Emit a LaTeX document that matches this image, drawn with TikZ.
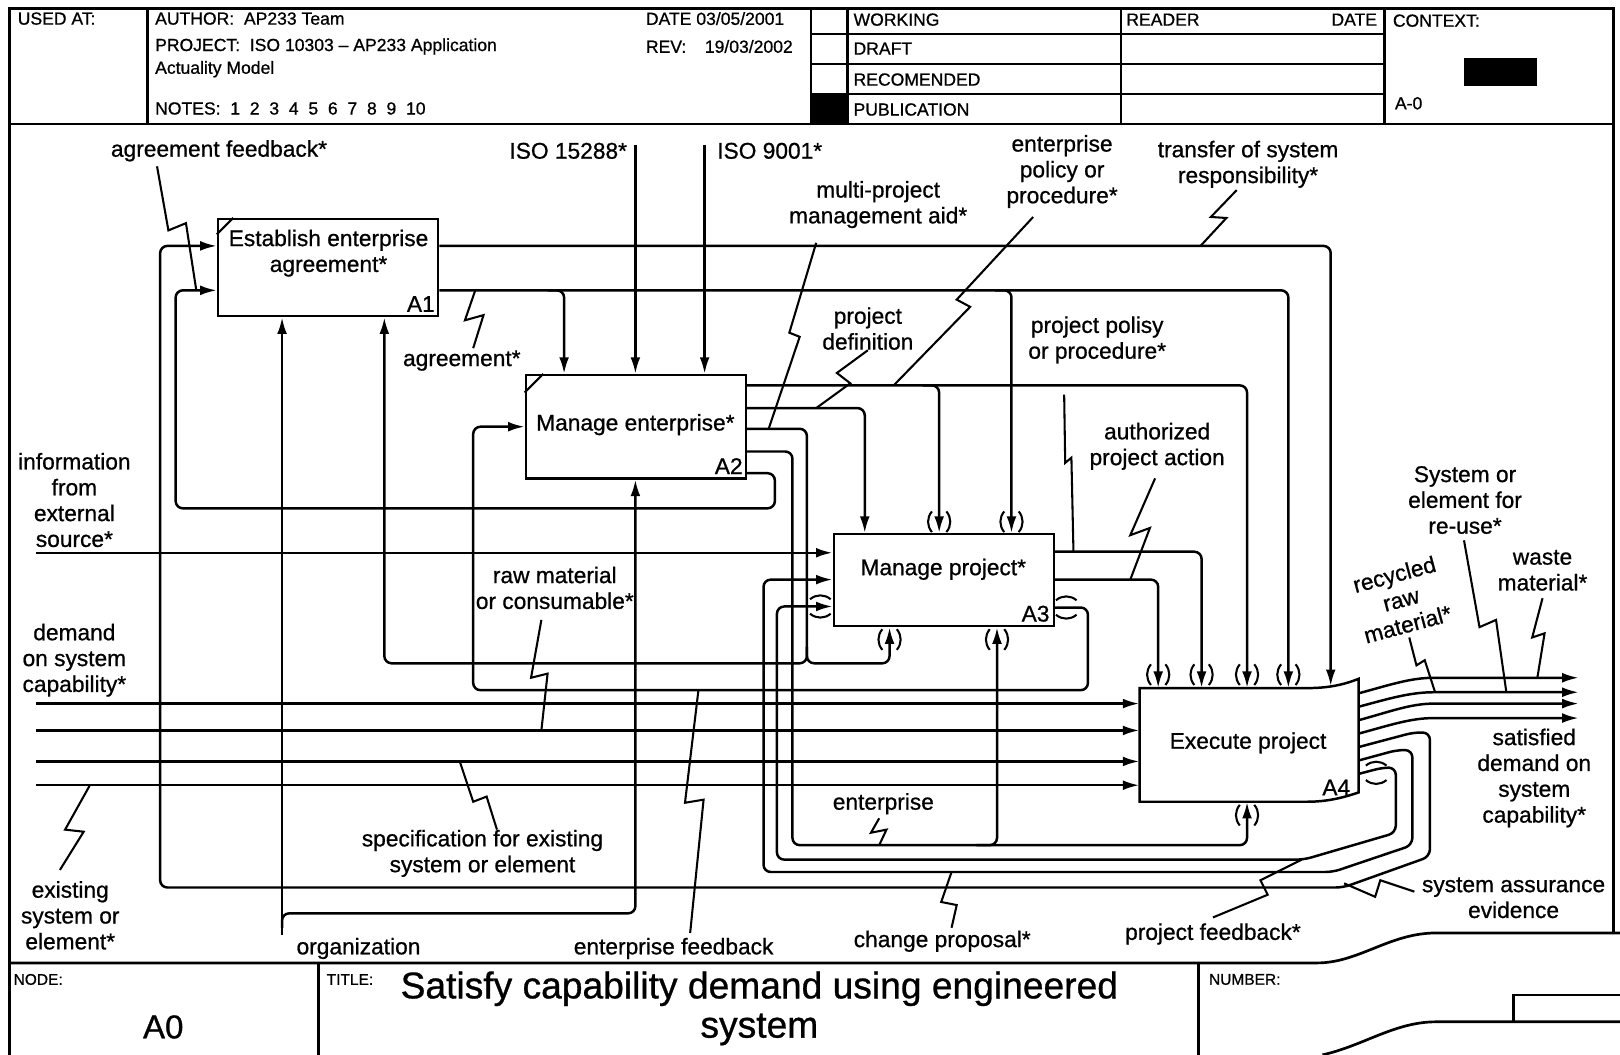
\documentclass[tikz,border=0pt]{standalone}
\usepackage{fontspec}
\setmainfont[FakeBold=0.8]{Liberation Sans}
\usetikzlibrary{arrows.meta,calc}

\tikzset{
  flow/.style={line width=2.4pt, rounded corners=7pt, -{Latex[length=16pt,width=9.5pt]}},
  squig/.style={line width=2pt},
  sheet/.style={line width=2.6pt},
  proc/.style={draw, line width=2.4pt, inner sep=0pt, minimum width=213pt},
  lbl/.style={font=\fontsize{22}{25}\selectfont, align=center, inner sep=0pt},
  hdr/.style={font=\fontsize{17}{20}\selectfont, anchor=west, inner sep=0pt},
  small/.style={font=\fontsize{15}{18}\selectfont, anchor=west, inner sep=0pt},
  tunv/.pic={\draw[line width=2pt] (-7,-10) .. controls (-12,-4) and (-12,4) .. (-7,10);
             \draw[line width=2pt] (7,-10) .. controls (12,-4) and (12,4) .. (7,10);},
  tunh/.pic={\draw[line width=2pt] (-10,-7) .. controls (-4,-12) and (4,-12) .. (10,-7);
             \draw[line width=2pt] (-10,7) .. controls (-4,12) and (4,12) .. (10,7);}
}

\begin{document}
\begin{tikzpicture}[x=1pt, y=-1pt]
    \useasboundingbox (0,0) rectangle (1568,1021);

    % Sheet frame and header
    \draw[sheet] (9,1021) -- (9,8) -- (1562,8) -- (1562,903);
    \draw[sheet] (9,120) -- (1562,120);
    \foreach \x in {143,785,820,1085,1340} \draw[sheet] (\x,8) -- (\x,120);
    \foreach \y in {33,62,91} \draw[sheet] (785,\y) -- (1340,\y);
    \fill (785,91) rectangle (820,120);
    \fill (1417,56) rectangle (1488,83);

    % Footer
    \draw[sheet] (9,932) -- (1275,932) .. controls (1315,932) and (1345,903) .. (1390,903) -- (1568,903);
    \draw[sheet] (308,932) -- (308,1021);
    \draw[sheet] (1160,932) -- (1160,1021);
    \draw[sheet] (1280,1021) .. controls (1320,1012) and (1350,989) .. (1390,989) -- (1568,989);
    \draw[sheet] (1465,989) -- (1465,963) -- (1568,963);

    % Header texts
    \node[hdr] (usedat) at (17,18) {USED AT:};
    \node[hdr] (author) at (150,18) {AUTHOR:\ \ AP233 Team};
    \node[hdr] (date) at (625,18) {DATE 03/05/2001};
    \node[hdr] (project) at (150,45) {PROJECT:\ \ ISO 10303 \textendash\ AP233 Application};
    \node[hdr] (rev) at (625,45) {REV:\hspace{18pt}19/03/2002};
    \node[hdr] (actuality) at (150,67) {Actuality Model};
    \node[hdr] (notes) at (150,105) {NOTES:\ \ 1\ \ 2\ \ 3\ \ 4\ \ 5\ \ 6\ \ 7\ \ 8\ \ 9\ \ 10};
    \node[hdr] (working) at (826,19) {WORKING};
    \node[hdr] (draft) at (826,47) {DRAFT};
    \node[hdr] (recomended) at (826,77) {RECOMENDED};
    \node[hdr] (publication) at (826,106) {PUBLICATION};
    \node[hdr] (reader) at (1090,19) {READER};
    \node[hdr, anchor=east] (rdate) at (1333,19) {DATE};
    \node[hdr] (context) at (1348,20) {CONTEXT:};
    \node[hdr] (aminus) at (1350,100) {A-0};

    % Footer texts
    \node[small] (nodelbl) at (13,948) {NODE:};
    \node[font=\fontsize{32}{36}\selectfont, inner sep=0pt] (nodeid) at (158,994) {A0};
    \node[small] (titlelbl) at (316,948) {TITLE:};
    \node[font=\fontsize{36}{38}\selectfont, align=center, inner sep=0pt] (title) at (735,976) {Satisfy capability demand using engineered\\system};
    \node[small] (numberlbl) at (1170,948) {NUMBER:};

    % Activity boxes
    \node[proc, minimum height=94pt] (A1) at (317.5,259) {};
    \node[lbl] (A1name) at (318,245) {Establish enterprise\\agreement*};
    \node[lbl, anchor=south east] (A1id) at (421,302) {A1};
    \draw[line width=2pt] (A1.north west) ++(0,16) -- ++(16,-16);

    \node[proc, minimum height=100pt] (A2) at (615.5,413) {};
    \node[lbl] (A2name) at (615,411) {Manage enterprise*};
    \node[lbl, anchor=south east] (A2id) at (719,459) {A2};
    \draw[line width=2pt] (A2.north west) ++(0,18) -- ++(18,-18);

    \node[proc, minimum height=89pt] (A3) at (913.5,561.5) {};
    \node[lbl] (A3name) at (913,551) {Manage project*};
    \node[lbl, anchor=south east] (A3id) at (1016,602) {A3};

    \node[minimum width=212pt, minimum height=110pt, inner sep=0pt] (A4) at (1209,721) {};
    \draw[line width=2.4pt] (1103,666) -- (1265,666) .. controls (1285,666) and (1300,663) .. (1315,657)
        -- (1315,767) .. controls (1300,772) and (1285,776) .. (1265,776) -- (1103,776) -- cycle;
    \node[lbl] (A4name) at (1208,719) {Execute project};
    \node[lbl, anchor=south east] (A4id) at (1307,770) {A4};

    % A1 outputs
    \draw[flow] (A1.east |- 0,238) -| (1288,664);
    \draw[flow] (A1.east |- 0,281) -| (A4.north -| 1247,0);
    \draw[flow] (530,281) -| (A2.north -| 546,0);
    \draw[flow] (963,281) -| (A3.north -| 979,0);

    % Boundary controls
    \coordinate (iso15288) at (615,140);
    \coordinate (iso9001) at (682,140);
    \draw[flow] (iso15288) -- (A2.north -| iso15288);
    \draw[flow] (iso9001) -- (A2.north -| iso9001);

    % A2 outputs
    \draw[flow] (A2.east |- 0,373) -| (A4.north -| 1207,0);
    \draw[flow] (893,373) -| (A3.north -| 909,0);
    \draw[flow] (A2.east |- 0,395) -| (A3.north -| 837,0);
    \draw[flow] (A2.east |- 0,415) -| (781,642) -| (A1.south -| 372,0);
    \draw[flow] (781,626) |- (845,642) -| (A3.south -| 861,0);
    \draw[flow] (A2.east |- 0,437) -| (767,818) -| (A4.south -| 1207,0);
    \draw[flow] (945,818) -| (A3.south -| 965,0);
    \draw[flow] (A2.east |- 0,458) -| (750,492) -| (170,281) -- (A1.west |- 0,281);

    % Organization
    \coordinate (org) at (273,905);
    \draw[flow] (org) -- (A1.south -| org);
    \draw[flow] (273,898) |- (600,884) -| (A2.south -| 615,0);

    % A3 outputs
    \draw[flow] (A3.east |- 0,534) -| (A4.north -| 1163,0);
    \draw[flow] (A3.east |- 0,561) -| (A4.north -| 1121,0);
    \draw[flow] (A3.east |- 0,588) -| (1053,668) -| (458,413) -- (A2.west |- 0,413);

    % Boundary inputs
    \coordinate (extinfo) at (35,535);
    \draw[flow] (extinfo) -- (A3.west |- extinfo);
    \foreach \y/\n in {681/dem1,707/dem2,737/dem3,760/dem4} {
        \coordinate (\n) at (35,\y);
        \draw[flow] (\n) -- (A4.west |- \n);
    }

    % A4 outputs
    \foreach \ya/\yb [count=\i] in {671/656,684/670,697/681,710/695} {
        \coordinate (out\i) at (1528,\yb);
        \draw[flow] (A4.east |- 0,\ya) .. controls (1345,\ya-8) and (1365,\yb) .. (1395,\yb) -- (out\i);
    }

    % Feedback loops from A4
    \draw[flow] (A4.east |- 0,723) -- (1368,709) -- (1384,709) -- (1384,829) -- (1300,859)
        -- (155,859) -- (155,238) -- (A1.west |- 0,238);
    \draw[flow] (A4.east |- 0,736) -- (1352,726) -- (1367,726) -- (1367,818) -- (1290,844)
        -- (739,844) -- (739,561) -- (A3.west |- 0,561);
    \draw[flow] (A4.east |- 0,749) -- (1338,743) -- (1351,743) -- (1351,806) -- (1262,832)
        -- (752,832) -- (752,587) -- (A3.west |- 0,587);

    % Tunnels
    \foreach \x in {909,979} \pic at (\x,505) {tunv};
    \foreach \x in {861,965} \pic at (\x,619) {tunv};
    \foreach \x in {1121,1163,1207,1247} \pic at (\x,653) {tunv};
    \pic at (1207,789) {tunv};
    \pic at (794,587) {tunh};
    \pic at (1032,588) {tunh};
    \pic at (1332,748) {tunh};

    % Labels
    \node[lbl] (lagrfb) at (212,146) {agreement feedback*};
    \node[lbl] (liso1) at (550,146) {ISO 15288*};
    \node[lbl] (liso2) at (745,146) {ISO 9001*};
    \node[lbl] (lmulti) at (850,198) {multi-project\\management aid*};
    \node[lbl] (lentpol) at (1028,166) {enterprise\\policy or\\procedure*};
    \node[lbl] (ltransfer) at (1208,159) {transfer of system\\responsibility*};
    \node[lbl] (lprojdef) at (840,318) {project\\definition};
    \node[lbl] (lagr) at (447,349) {agreement*};
    \node[lbl] (lprojpol) at (1062,329) {project polisy\\or procedure*};
    \node[lbl] (lauth) at (1120,432) {authorized\\project action};
    \node[lbl] (linfo) at (72,484) {information\\from\\external\\source*};
    \node[lbl] (lraw) at (537,569) {raw material\\or consumable*};
    \node[lbl] (ldemand) at (72,639) {demand\\on system\\capability*};
    \node[lbl] (lreuse) at (1418,484) {System or\\element for\\re-use*};
    \node[lbl] (lwaste) at (1493,552) {waste\\material*};
    \node[lbl, rotate=15] (lrecyc) at (1356,580) {recycled\\raw\\material*};
    \node[lbl] (lsatis) at (1485,753) {satisfied\\demand on\\system\\capability*};
    \node[lbl] (lent) at (855,778) {enterprise};
    \node[lbl] (lspec) at (467,826) {specification for existing\\system or element};
    \node[lbl] (lexist) at (68,886) {existing\\system or\\element*};
    \node[lbl] (lorg) at (347,918) {organization};
    \node[lbl] (lentfb) at (652,918) {enterprise feedback};
    \node[lbl] (lchange) at (912,911) {change proposal*};
    \node[lbl] (lprojfb) at (1174,904) {project feedback*};
    \node[lbl] (lassur) at (1465,869) {system assurance\\evidence};

    % Squiggles
    \draw[squig] (152,161) -- (163,223) -- (180,216) -- (190,281);
    \draw[squig] (460,281) -- (450,310) -- (468,305) -- (458,337);
    \draw[squig] (790,235) -- (764,322) -- (774,326) -- (744,415);
    \draw[squig] (1000,210) -- (926,290) -- (939,297) -- (865,373);
    \draw[squig] (1197,184) -- (1172,210) -- (1187,211) -- (1162,238);
    \draw[squig] (840,339) -- (810,361) -- (823,371) -- (790,395);
    \draw[squig] (1030,382) -- (1031,448) -- (1037,443) -- (1039,534);
    \draw[squig] (1118,463) -- (1094,518) -- (1113,511) -- (1094,561);
    \draw[squig] (524,600) -- (514,656) -- (530,652) -- (524,707);
    \draw[squig] (445,737) -- (458,776) -- (471,771) -- (481,803);
    \draw[squig] (87,760) -- (63,803) -- (81,805) -- (58,842);
    \draw[squig] (676,668) -- (663,777) -- (681,774) -- (668,903);
    \draw[squig] (851,792) -- (843,806) -- (858,803) -- (851,818);
    \draw[squig] (921,844) -- (911,873) -- (926,876) -- (921,898);
    \draw[squig] (1260,832) -- (1220,852) -- (1227,866) -- (1174,888);
    \draw[squig] (1301,855) -- (1331,868) -- (1336,852) -- (1369,863);
    \draw[squig] (1364,617) -- (1371,644) -- (1379,639) -- (1389,670);
    \draw[squig] (1417,523) -- (1432,607) -- (1448,600) -- (1458,670);
    \draw[squig] (1493,579) -- (1483,617) -- (1495,613) -- (1488,656);
\end{tikzpicture}
\end{document}
